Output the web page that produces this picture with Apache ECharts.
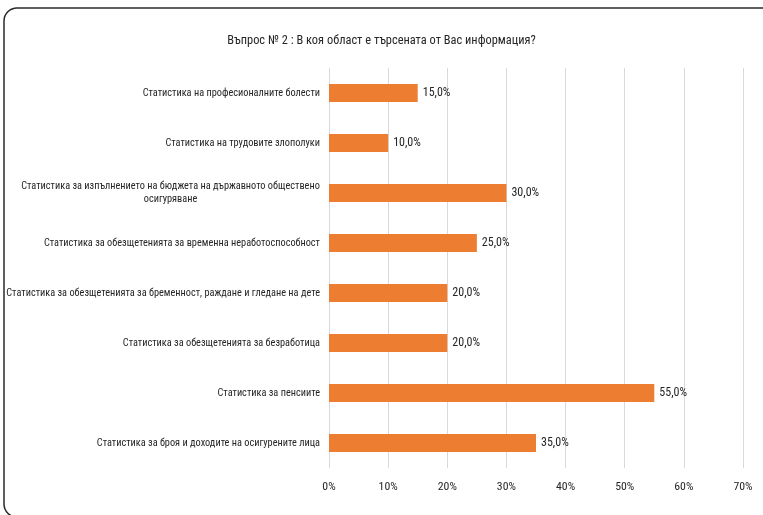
<!DOCTYPE html>
<html>
<head>
<meta charset="utf-8">
<script src="https://cdn.jsdelivr.net/npm/echarts@6/dist/echarts.min.js"></script>
<style>
  html, body { margin: 0; padding: 0; background: #fff; }
  #chart { width: 763px; height: 515px; }
</style>
</head>
<body>
<div id="chart"></div>
<script>
// Survey question 2: which area the requested information concerns (share of answers, %)
const titleText = 'Въпрос № 2 : В коя област е търсената от Вас информация?';

const categories = [
  'Статистика на професионалните болести',
  'Статистика на трудовите злополуки',
  'Статистика за изпълнението на бюджета на държавното обществено\nосигуряване',
  'Статистика за обезщетенията за временна неработоспособност',
  'Статистика за обезщетенията за бременност, раждане и гледане на дете',
  'Статистика за обезщетенията за безработица',
  'Статистика за пенсиите',
  'Статистика за броя и доходите на осигурените лица'
];

const shares = [15, 10, 30, 25, 20, 20, 55, 35];

const xTicks = [0, 10, 20, 30, 40, 50, 60, 70];

// Narrow sans: Roboto with condensed stretch
const FONT = "Roboto, 'Liberation Sans', sans-serif";
const STRETCH = 'condensed';
const TEXT_COLOR = '#262626';
const LABEL_SIZE = 10.3;

// Width of the widest line of a multi-line label, used to centre its lines
const measureCtx = document.createElement('canvas').getContext('2d');
measureCtx.font = STRETCH + ' ' + LABEL_SIZE + 'px ' + FONT;
function lineWidth(s) { return Math.ceil(measureCtx.measureText(s).width); }

const richStyles = {};
categories.forEach((c, i) => {
  const lines = c.split('\n');
  if (lines.length > 1) {
    richStyles['c' + i] = {
      width: Math.max(...lines.map(lineWidth)),
      align: 'center',
      fontFamily: FONT,
      fontWeight: STRETCH,
      fontSize: LABEL_SIZE,
      color: TEXT_COLOR,
      lineHeight: 13
    };
  }
});

const chart = echarts.init(document.getElementById('chart'), null, { renderer: 'canvas' });

chart.setOption({
  animation: false,
  backgroundColor: '#ffffff',
  title: {
    text: titleText,
    left: 'center',
    top: 30,
    textStyle: { fontFamily: FONT, fontSize: 12.4, fontWeight: STRETCH, color: TEXT_COLOR }
  },
  graphic: [{
    type: 'rect',
    shape: { x: 4, y: 8, width: 900, height: 509, r: 13 },
    style: { fill: 'none', stroke: '#2b2b2b', lineWidth: 1.5 },
    silent: true,
    z: 100
  }],
  grid: { left: 329, right: 20, top: 68, bottom: 47, containLabel: false, outerBoundsMode: 'none' },
  xAxis: {
    type: 'value',
    min: xTicks[0],
    max: xTicks[xTicks.length - 1],
    interval: 10,
    axisLine: { show: false },
    axisTick: { show: false },
    splitLine: { show: true, lineStyle: { color: '#d9d9d9', width: 1 } },
    axisLabel: {
      formatter: v => v + '%',
      fontFamily: FONT,
      fontWeight: STRETCH,
      fontSize: 11.8,
      color: TEXT_COLOR,
      margin: 13
    }
  },
  yAxis: {
    type: 'category',
    data: categories,
    inverse: true,
    axisLine: { show: false },
    axisTick: { show: false },
    splitLine: { show: false },
    axisLabel: {
      fontFamily: FONT,
      fontWeight: STRETCH,
      fontSize: LABEL_SIZE,
      color: TEXT_COLOR,
      margin: 9,
      lineHeight: 13,
      formatter: (value, idx) => richStyles['c' + idx]
        ? value.split('\n').map(l => '{c' + idx + '|' + l + '}').join('\n')
        : value,
      rich: richStyles
    }
  },
  series: [{
    type: 'bar',
    data: shares,
    barWidth: 18,
    itemStyle: { color: '#ED7D31' },
    label: {
      show: true,
      position: 'right',
      distance: 5,
      formatter: p => p.value.toFixed(1).replace('.', ',') + '%',
      fontFamily: FONT,
      fontWeight: STRETCH,
      fontSize: 12,
      color: TEXT_COLOR
    }
  }]
});
</script>
</body>
</html>
